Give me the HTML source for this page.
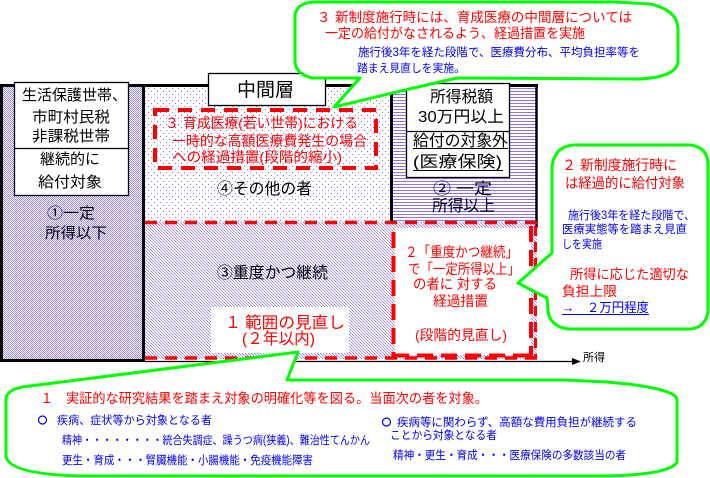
<!DOCTYPE html>
<html><head><meta charset="utf-8"><style>
html,body{margin:0;padding:0;background:#fff;}
svg{display:block;font-family:"Liberation Sans","Noto Sans CJK JP",sans-serif;}
</style></head><body>
<svg width="710" height="478" viewBox="0 0 710 478" xmlns="http://www.w3.org/2000/svg">
<defs>
<pattern id="chk" width="2" height="2" patternUnits="userSpaceOnUse"><g shape-rendering="crispEdges"><rect width="2" height="2" fill="#fff"/><rect width="1" height="1" fill="#9d84ff"/><rect x="1" y="1" width="1" height="1" fill="#9d84ff"/></g></pattern>
<pattern id="dt" width="6" height="6" patternUnits="userSpaceOnUse"><g shape-rendering="crispEdges"><rect width="6" height="6" fill="#fff"/><rect x="1" y="1" width="1" height="1" fill="#8a70ff"/><rect x="4" y="4" width="1" height="1" fill="#8a70ff"/></g></pattern>
<pattern id="hl" width="4" height="3" patternUnits="userSpaceOnUse"><g shape-rendering="crispEdges"><rect width="4" height="3" fill="#fff"/><rect y="1" width="4" height="1" fill="#8a70ff"/></g></pattern>
<pattern id="dg" width="3" height="3" patternUnits="userSpaceOnUse"><g shape-rendering="crispEdges"><rect width="3" height="3" fill="#fff"/><rect x="0" y="0" width="1" height="1" fill="#9d84ff"/><rect x="1" y="1" width="1" height="1" fill="#9d84ff"/><rect x="2" y="2" width="1" height="1" fill="#9d84ff"/></g></pattern>
</defs>
<rect width="710" height="478" fill="#fff"/>

<!-- regions -->
<rect x="2" y="86" width="142" height="274" fill="url(#chk)"/>
<rect x="145" y="86" width="246" height="136" fill="url(#dt)"/>
<rect x="392" y="86" width="144" height="136" fill="url(#hl)"/>
<rect x="145" y="222" width="392" height="137" fill="url(#dg)"/>

<!-- black borders -->
<line x1="0" y1="85.5" x2="538" y2="85.5" stroke="#000" stroke-width="3"/>
<line x1="1.5" y1="85" x2="1.5" y2="362" stroke="#000" stroke-width="3"/>
<line x1="143.5" y1="85" x2="143.5" y2="362" stroke="#000" stroke-width="3"/>
<line x1="0" y1="360.5" x2="145" y2="360.5" stroke="#000" stroke-width="3"/>
<line x1="391.5" y1="85" x2="391.5" y2="222" stroke="#000" stroke-width="3"/>
<line x1="536.5" y1="85" x2="536.5" y2="228" stroke="#000" stroke-width="2.5"/>

<!-- red dashed outer lower -->
<line x1="145" y1="222.5" x2="537" y2="222.5" stroke="#f00" stroke-width="3.5" stroke-dasharray="12 8"/>
<line x1="535.5" y1="226" x2="535.5" y2="358" stroke="#f00" stroke-width="3" stroke-dasharray="10 6"/>
<line x1="145" y1="358" x2="537" y2="358" stroke="#f00" stroke-width="3.5" stroke-dasharray="12 8"/>

<!-- axis -->
<line x1="145" y1="361.5" x2="575" y2="361.5" stroke="#000" stroke-width="1.2"/>
<polygon points="572,358 581,361.5 572,365" fill="#000"/>
<text x="583" y="361" font-size="11" textLength="22" lengthAdjust="spacingAndGlyphs">所得</text>

<!-- white boxes -->
<rect x="14.5" y="82.5" width="114" height="113" fill="#fff" stroke="#000" stroke-width="1.3"/>
<line x1="14.5" y1="148.5" x2="128.5" y2="148.5" stroke="#000" stroke-width="1.3"/>
<rect x="208.5" y="73.5" width="117" height="32" fill="#fff" stroke="#000" stroke-width="1.3"/>
<rect x="406.5" y="83.5" width="103" height="94" fill="#fff" stroke="#000" stroke-width="1.3"/>
<line x1="406.5" y1="131.5" x2="509.5" y2="131.5" stroke="#000" stroke-width="1.3"/>
<rect x="211" y="307" width="138" height="46" fill="#fff"/>
<rect x="395" y="228" width="136" height="127" fill="#fff"/>
<line x1="393.5" y1="232" x2="393.5" y2="357" stroke="#f00" stroke-width="4" stroke-dasharray="16 8"/>
<line x1="531" y1="226" x2="531" y2="357" stroke="#f00" stroke-width="4" stroke-dasharray="16 8"/>
<line x1="393" y1="355.5" x2="531" y2="355.5" stroke="#f00" stroke-width="4" stroke-dasharray="16 8"/>

<!-- 3 育成 dashed box -->
<rect x="155" y="110" width="221" height="58" fill="none" stroke="#f00" stroke-width="4" stroke-dasharray="14 9"/>

<!-- left column text -->
<g font-size="15" fill="#000">
<text x="22" y="100" textLength="105" lengthAdjust="spacingAndGlyphs">生活保護世帯、</text>
<text x="32" y="122" textLength="78" lengthAdjust="spacingAndGlyphs">市町村民税</text>
<text x="32" y="141" textLength="78" lengthAdjust="spacingAndGlyphs">非課税世帯</text>
<text x="40" y="164" textLength="60" lengthAdjust="spacingAndGlyphs">継続的に</text>
<text x="38" y="187" textLength="64" lengthAdjust="spacingAndGlyphs">給付対象</text>
<text x="47" y="218" textLength="48" lengthAdjust="spacingAndGlyphs">①一定</text>
<text x="45" y="238" textLength="62" lengthAdjust="spacingAndGlyphs">所得以下</text>
</g>

<text x="237" y="96" font-size="19" textLength="57" lengthAdjust="spacingAndGlyphs">中間層</text>

<g fill="#f00" font-size="14">
<text x="165" y="128">３</text>
<text x="183" y="128" textLength="175" lengthAdjust="spacingAndGlyphs">育成医療(若い世帯)における</text>
<text x="172" y="146" textLength="195" lengthAdjust="spacingAndGlyphs">一時的な高額医療費発生の場合</text>
<text x="172" y="162" textLength="170" lengthAdjust="spacingAndGlyphs">への経過措置(段階的縮小)</text>
</g>
<text x="217" y="194" font-size="16" textLength="95" lengthAdjust="spacingAndGlyphs">④その他の者</text>

<!-- right box text -->
<g font-size="16" fill="#000">
<text x="430" y="102" textLength="63" lengthAdjust="spacingAndGlyphs">所得税額</text>
<text x="418" y="122" textLength="86" lengthAdjust="spacingAndGlyphs">30万円以上</text>
<text x="413" y="146" textLength="95" lengthAdjust="spacingAndGlyphs">給付の対象外</text>
<text x="413" y="167" textLength="89" lengthAdjust="spacingAndGlyphs">(医療保険)</text>
<text x="433" y="194" textLength="59" lengthAdjust="spacingAndGlyphs">② 一定</text>
<text x="432" y="211" textLength="63" lengthAdjust="spacingAndGlyphs">所得以上</text>
</g>
<line x1="413" y1="148.5" x2="508" y2="148.5" stroke="#000" stroke-width="1"/>
<line x1="413" y1="170.5" x2="503" y2="170.5" stroke="#000" stroke-width="1"/>

<!-- lower texts -->
<text x="217" y="278" font-size="16" textLength="111" lengthAdjust="spacingAndGlyphs">③重度かつ継続</text>
<g fill="#f00" font-size="16">
<text x="225" y="328">１</text>
<text x="245" y="328" textLength="100" lengthAdjust="spacingAndGlyphs">範囲の見直し</text>
<text x="242" y="344" textLength="73" lengthAdjust="spacingAndGlyphs">(２年以内)</text>
</g>
<g fill="#f00" font-size="14">
<text x="405" y="257" textLength="113" lengthAdjust="spacingAndGlyphs">２「重度かつ継続」</text>
<text x="408" y="274" textLength="112" lengthAdjust="spacingAndGlyphs">で「一定所得以上」</text>
<text x="413" y="289" textLength="84" lengthAdjust="spacingAndGlyphs">の者に 対する</text>
<text x="433" y="306" textLength="55" lengthAdjust="spacingAndGlyphs">経過措置</text>
<text x="415" y="340" textLength="92" lengthAdjust="spacingAndGlyphs">(段階的見直し)</text>
</g>

<!-- top callout -->
<path d="M313,2 L615,2 L650,4 Q678,10 678,30 L678,62 Q676,77 640,79 L457,78 L405,90 L334,107 L360,78 L312,78 Q296,74 295,62 L295,15 Q297,3 313,2 Z" fill="#fff" stroke="#00ff00" stroke-width="3" stroke-linejoin="round"/>
<g fill="#f00" font-size="13.5">
<text x="317" y="22">３</text>
<text x="335" y="22" textLength="297" lengthAdjust="spacingAndGlyphs">新制度施行時には、育成医療の中間層については</text>
<text x="325" y="38" textLength="260" lengthAdjust="spacingAndGlyphs">一定の給付がなされるよう、経過措置を実施</text>
</g>
<g fill="#00f" font-size="11.5">
<text x="358" y="56" textLength="282" lengthAdjust="spacingAndGlyphs">施行後3年を経た段階で、医療費分布、平均負担率等を</text>
<text x="357" y="72" textLength="108" lengthAdjust="spacingAndGlyphs">踏まえ見直しを実施。</text>
</g>

<!-- right callout -->
<path d="M573,145 L690,145 Q708,147 708,165 L708,312 Q705,328 690,329 L568,329 Q549,326 548,310 L547,298 L518,283 L552,253 L552,167 Q554,147 573,145 Z" fill="#fff" stroke="#00ff00" stroke-width="3" stroke-linejoin="round"/>
<g fill="#f00" font-size="14">
<text x="562" y="170">２</text>
<text x="580" y="170" textLength="97" lengthAdjust="spacingAndGlyphs">新制度施行時に</text>
<text x="565" y="188" textLength="120" lengthAdjust="spacingAndGlyphs">は経過的に給付対象</text>
</g>
<g fill="#00f" font-size="11.5">
<text x="568" y="219" textLength="127" lengthAdjust="spacingAndGlyphs">施行後3年を経た段階で、</text>
<text x="562" y="233" textLength="125" lengthAdjust="spacingAndGlyphs">医療実態等を踏まえ見直</text>
<text x="562" y="248" textLength="40" lengthAdjust="spacingAndGlyphs">しを実施</text>
</g>
<g fill="#f00" font-size="13.5">
<text x="570" y="279" textLength="119" lengthAdjust="spacingAndGlyphs">所得に応じた適切な</text>
<text x="562" y="296" textLength="55" lengthAdjust="spacingAndGlyphs">負担上限</text>
</g>
<text x="562" y="312" fill="#00f" font-size="13" textLength="87" lengthAdjust="spacingAndGlyphs">→　２万円程度</text>
<line x1="562" y1="314.5" x2="649" y2="314.5" stroke="#00f" stroke-width="1"/>

<!-- bottom callout -->
<path d="M30,386 L298,352 L287,380 L565,380 L607,382 Q677,388 677,400 L677,462 Q670,475 603,476 L80,476 Q8,474 6,456 L6,398 Q8,388 30,386 Z" fill="#fff" stroke="#00ff00" stroke-width="3" stroke-linejoin="round"/>
<g fill="#f00" font-size="13.5">
<text x="40" y="403">１</text>
<text x="66" y="403" textLength="422" lengthAdjust="spacingAndGlyphs">実証的な研究結果を踏まえ対象の明確化等を図る。当面次の者を対象。</text>
</g>
<circle cx="42.5" cy="420" r="4" fill="none" stroke="#00f" stroke-width="1.2"/>
<circle cx="386.5" cy="422" r="4" fill="none" stroke="#00f" stroke-width="1.2"/>
<g fill="#00f" font-size="11.5">
<text x="57" y="424" textLength="155" lengthAdjust="spacingAndGlyphs">疾病、症状等から対象となる者</text>
<text x="62" y="444" textLength="308" lengthAdjust="spacingAndGlyphs">精神・・・・・・・・統合失調症、躁うつ病(狭義)、難治性てんかん</text>
<text x="62" y="464" textLength="251" lengthAdjust="spacingAndGlyphs">更生・育成・・・腎臓機能・小腸機能・免疫機能障害</text>
<text x="397" y="426" textLength="240" lengthAdjust="spacingAndGlyphs">疾病等に関わらず、高額な費用負担が継続する</text>
<text x="390" y="439" textLength="107" lengthAdjust="spacingAndGlyphs">ことから対象となる者</text>
<text x="393" y="459" textLength="233" lengthAdjust="spacingAndGlyphs">精神・更生・育成・・・医療保険の多数該当の者</text>
</g>
</svg>
</body></html>
